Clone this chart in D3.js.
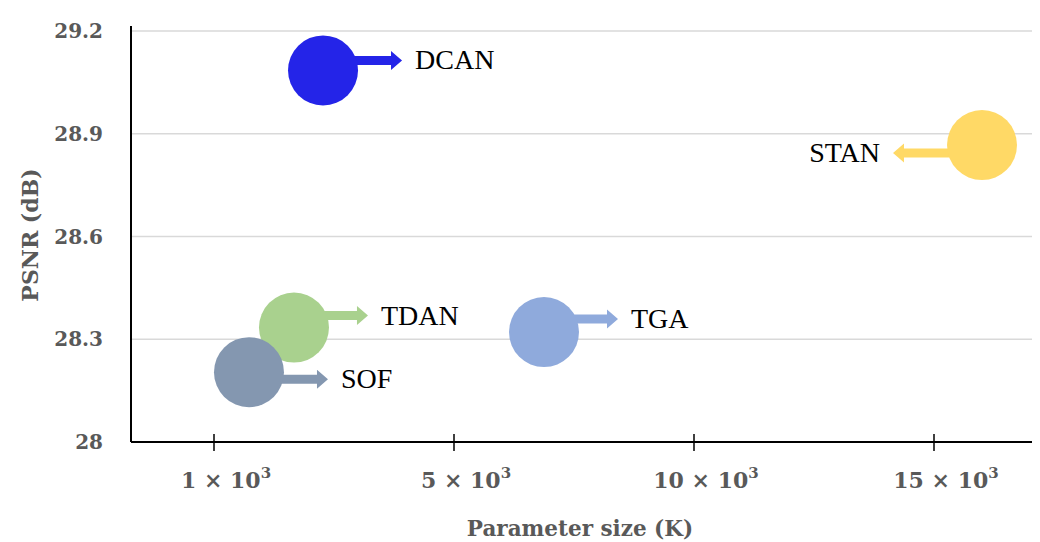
<!DOCTYPE html>
<html>
<head>
<meta charset="utf-8">
<script src="https://cdn.jsdelivr.net/npm/d3@7"></script>
<style>
    body { margin: 0; background: #fff; }
    .serifa { font-family: 'Liberation Serif', 'Times New Roman', Tinos, 'DejaVu Serif', 'Noto Serif', serif; }
    .eixo { font-family: 'DejaVu Serif', 'Liberation Serif', 'Noto Serif', serif; font-weight: bold; }
</style>
</head>
<body>
<div id="grafico"></div>
<script>

// Models, parameter size (K) and PSNR (dB)
const modelos = ['DCAN', 'STAN', 'TDAN', 'TGA', 'SOF']
const parametros = [2817, 16000, 2333, 6875, 1583]
const psnr = [29.085, 28.867, 28.334, 28.321, 28.204]

// Axis ticks
const ticks_x = [1000, 5000, 10000, 15000]
const ticks_y = [28, 28.3, 28.6, 28.9, 29.2]

// Bubble colours
const cores = {
    DCAN: '#2424E8',
    STAN: '#FFD966',
    TDAN: '#A9D18E',
    TGA: '#8FAADC',
    SOF: '#8497B0'
}

// Arrow layout per label: direction, vertical shift, length (px)
const setas = {
    DCAN: { dir: 1, dy: -10, len: 79 },
    STAN: { dir: -1, dy: 8, len: 89 },
    TDAN: { dir: 1, dy: -12, len: 74 },
    TGA: { dir: 1, dy: -13, len: 74 },
    SOF: { dir: 1, dy: 7, len: 79 }
}

function graficarBolhas(id_area) {

    // Chart settings
    let margin = { top: 31, right: 8, bottom: 100, left: 131 };
    let width = 1040 - margin.left - margin.right;
    let height = 542 - margin.top - margin.bottom;
    const raio = 35
    const cinza = '#595959'

    let svg = d3.select(`#${id_area}`).append('svg')
        .attr('width', width + margin.left + margin.right)
        .attr('height', height + margin.top + margin.bottom)
        .append('g')
        .attr('transform', `translate(${margin.left}, ${margin.top})`)

    // The x ticks are evenly spaced in the picture, so use a piecewise scale
    let x = d3.scaleLinear()
        .domain(ticks_x)
        .range(ticks_x.map((d, i) => 83 + i * 240))

    let y = d3.scaleLinear().domain([28, 29.2]).range([height, 0])

    // Gridlines
    svg.selectAll('.grade')
        .data(ticks_y.slice(1))
        .enter().append('line')
        .attr('x1', 0).attr('x2', width)
        .attr('y1', d => y(d)).attr('y2', d => y(d))
        .attr('stroke', '#d9d9d9')
        .attr('stroke-width', 1.5)

    // Y tick labels
    svg.selectAll('.rotulo-y')
        .data(ticks_y)
        .enter().append('text')
        .attr('class', 'eixo')
        .attr('x', -28)
        .attr('y', d => y(d))
        .attr('dy', '0.36em')
        .attr('text-anchor', 'end')
        .style('font-size', '20px')
        .attr('fill', cinza)
        .text(d => d)

    // Axis lines
    svg.append('line')
        .attr('x1', 0).attr('x2', 0)
        .attr('y1', -5).attr('y2', height)
        .attr('stroke', '#000').attr('stroke-width', 2)

    svg.append('line')
        .attr('x1', 0).attr('x2', width)
        .attr('y1', height).attr('y2', height)
        .attr('stroke', '#000').attr('stroke-width', 2)

    // X ticks crossing the axis
    svg.selectAll('.tick-x')
        .data(ticks_x)
        .enter().append('line')
        .attr('x1', d => x(d)).attr('x2', d => x(d))
        .attr('y1', height - 8).attr('y2', height + 9)
        .attr('stroke', '#000').attr('stroke-width', 1.5)

    // X tick labels, "n × 10³"
    let rotulos_x = svg.selectAll('.rotulo-x')
        .data(ticks_x)
        .enter().append('text')
        .attr('class', 'eixo')
        .attr('x', d => x(d) + 12)
        .attr('y', height + 46)
        .attr('text-anchor', 'middle')
        .style('font-size', '22px')
        .attr('fill', cinza)

    rotulos_x.append('tspan').text(d => `${d / 1000} × 10`)
    rotulos_x.append('tspan')
        .attr('dy', -10)
        .style('font-size', '15px')
        .text('3')

    // Axis titles
    svg.append('text')
        .attr('class', 'eixo')
        .attr('x', 449)
        .attr('y', height + 94)
        .attr('text-anchor', 'middle')
        .style('font-size', '21.5px')
        .attr('fill', cinza)
        .text('Parameter size (K)')

    svg.append('text')
        .attr('class', 'eixo')
        .attr('transform', 'rotate(-90)')
        .attr('x', -204)
        .attr('y', -93)
        .attr('text-anchor', 'middle')
        .style('font-size', '22px')
        .attr('fill', cinza)
        .text('PSNR (dB)')

    // Bubbles with arrows and labels
    for (let i = 0; i < modelos.length; i++) {

        const nome = modelos[i]
        const cx = x(parametros[i])
        const cy = y(psnr[i])
        const s = setas[nome]

        // Arrow polygon
        const y0 = cy + s.dy
        const ponta = cx + s.dir * s.len
        const base = ponta - s.dir * 11
        const h = 4.5, H = 9.5
        const pontos = [
            [cx, y0 - h], [base, y0 - h], [base, y0 - H], [ponta, y0],
            [base, y0 + H], [base, y0 + h], [cx, y0 + h]
        ]

        svg.append('path')
            .attr('d', d3.line()(pontos) + 'Z')
            .attr('fill', cores[nome])

        svg.append('circle')
            .attr('cx', cx)
            .attr('cy', cy)
            .attr('r', raio)
            .attr('fill', cores[nome])

        svg.append('text')
            .attr('class', 'serifa')
            .attr('x', ponta + s.dir * 13)
            .attr('y', y0)
            .attr('dy', 9)
            .attr('text-anchor', s.dir > 0 ? 'start' : 'end')
            .style('font-size', '28px')
            .attr('fill', '#000')
            .text(nome)
    }
}

graficarBolhas('grafico')

</script>
</body>
</html>
